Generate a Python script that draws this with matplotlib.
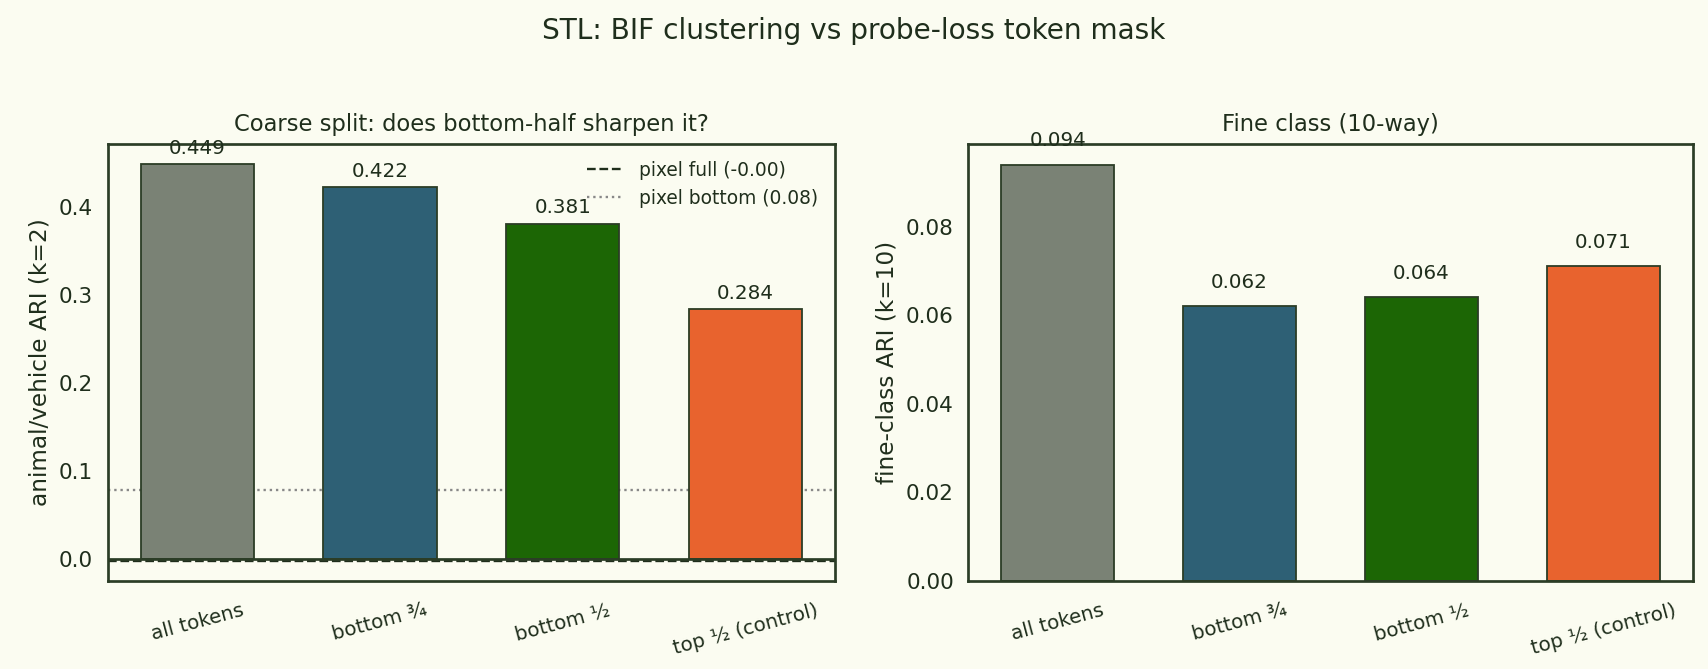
import matplotlib.pyplot as plt; plt.switch_backend('agg')
import numpy as np

labels = ["all tokens", "bottom \u00be", "bottom \u00bd", "top \u00bd (control)"]
coarse_ari = [0.449, 0.422, 0.381, 0.284]
fine_ari = [0.094, 0.062, 0.064, 0.071]
pixel_full = -0.002
pixel_bottom = 0.078

colors = ["#7a8275", "#2e6075", "#1c6605", "#e8632e"]
bg = "#fbfcf1"
ink = "#1f2e1c"
edge = "#2b3d26"

plt.rcParams.update({
    "text.color": ink, "axes.labelcolor": ink,
    "xtick.color": ink, "ytick.color": ink,
    "axes.edgecolor": edge, "font.family": "DejaVu Sans",
})

fig = plt.figure(figsize=(1708 / 130, 669 / 130), dpi=130, facecolor=bg)
ax1 = fig.add_axes([0.063, 0.132, 0.426, 0.653], facecolor=bg)
ax2 = fig.add_axes([0.567, 0.132, 0.424, 0.653], facecolor=bg)

x = np.arange(len(labels))

### left: coarse split
ax1.bar(x, coarse_ari, width=0.62, color=colors, edgecolor=edge, linewidth=1.0, zorder=2)
ax1.axhline(0, color=edge, lw=1.5, zorder=3)
ax1.axhline(pixel_full, color=ink, ls="--", lw=1.3, zorder=1, label="pixel full (-0.00)")
ax1.axhline(pixel_bottom, color="#888888", ls=":", lw=1.3, zorder=1, label="pixel bottom (0.08)")
for xi, v in zip(x, coarse_ari):
    ax1.text(xi, v + 0.007, "{:.3f}".format(v), ha="center", va="bottom", fontsize=11)
ax1.set_ylabel("animal/vehicle ARI (k=2)", fontsize=12.8)
ax1.set_title("Coarse split: does bottom-half sharpen it?", fontsize=12.5, pad=7)
ax1.legend(loc="upper right", frameon=False, fontsize=10.3)

### right: fine class
ax2.bar(x, fine_ari, width=0.62, color=colors, edgecolor=edge, linewidth=1.0, zorder=2)
for xi, v in zip(x, fine_ari):
    ax2.text(xi, v + 0.0033, "{:.3f}".format(v), ha="center", va="bottom", fontsize=11)
ax2.set_ylim(bottom=0)
ax2.set_ylabel("fine-class ARI (k=10)", fontsize=12.8)
ax2.set_title("Fine class (10-way)", fontsize=12.5, pad=7)

for ax in (ax1, ax2):
    ax.set_xticks(x)
    ax.set_xticklabels(labels, rotation=15, ha="center")
    ax.tick_params(length=0, labelsize=12, pad=8)
    ax.tick_params(axis="x", labelsize=11, pad=11)
    for s in ax.spines.values():
        s.set_linewidth(1.5)
        s.set_color(edge)

fig.suptitle("STL: BIF clustering vs probe-loss token mask", fontsize=15.5, y=0.975)
fig.savefig("out.png", dpi=130, facecolor=bg)
